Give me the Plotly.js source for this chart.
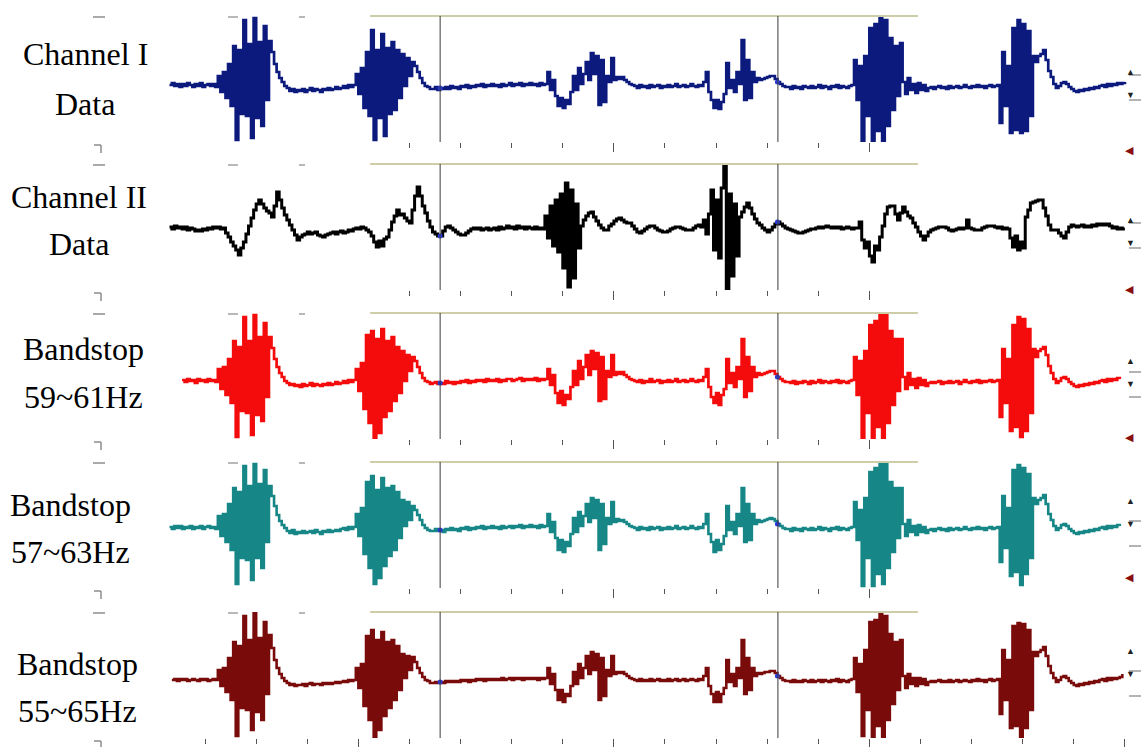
<!DOCTYPE html>
<html>
<head>
<meta charset="utf-8">
<script src="https://cdn.plot.ly/plotly-3.0.1.min.js"></script>
<style>
  html, body { margin: 0; padding: 0; background: #ffffff; }
  #chart { width: 1141px; height: 747px; }
</style>
</head>
<body>
<div id="chart"></div>
<script>
// Sampling grid (seconds per sample) and start time of each recording
const STEP = 0.05;
const channel1Start = -0.7;
const channel2Start = -0.7;
const bandstop1Start = -0.45;
const bandstop2Start = -0.7;
const bandstop3Start = -0.65;

// Channel I raw data
const channel1 = [
  1,3,0,2,-1,2,0,3,1,-1,2,0,3,-1,1,2,0,2,-1,
  10,-6,14,-12,22,-20,40,-54,36,-28,66,-30,42,-52,68,-32,44,-40,60,-14,45,34,22,14,8,4,0,
  -2,-5,-3,-6,-4,-5,-3,-6,-4,-2,-5,-3,-4,-6,-3,-4,-2,-4,-3,-1,-3,-2,0,-2,1,-1,1,
  12,-8,18,
  -22,34,-30,56,-54,36,-32,52,-50,38,-28,44,-24,36,-12,32,0,28,10,
  24,20,14,8,3,0,-1,-3,
  -3,-1,-4,-2,-3,-1,-3,0,-2,-1,-3,0,-1,1,-2,0,-1,1,0,2,-1,1,0,2,0,1,-1,2,0,1,3,0,2,1,3,0,2,1,3,1,2,0,3,1,2,
  14,-4,6,-10,-20,-12,-22,-14,-18,-6,10,-4,18,2,12,24,6,33,12,30,-19,26,-16,10,4,28,6,9,7,9,6,4,2,1,
  0,-2,1,-1,0,-2,1,-1,0,1,-2,0,-1,1,-1,0,2,-1,0,1,-1,0,2,0,-1,1,0,
  4,14,-6,-14,-22,-14,-23,-16,-8,23,-2,6,-6,14,2,46,-14,26,-12,14,4,8,6,7,8,9,10,10,7,4,2,0,-1,
  -1,-3,0,-2,-1,-3,0,-1,-2,0,-2,-1,1,-2,0,-1,-3,0,-1,1,-2,0,-1,-2,0,1,
  26,-14,20,-56,30,-30,58,-56,62,-45,69,-56,66,-40,48,-24,40,-10,43,4,-8,8,-4,2,-7,3,-4,1,-5,-2,
  -1,-3,-1,0,-2,-1,-3,0,-2,-1,0,-2,-1,1,-1,-2,0,-1,1,-1,0,-2,0,1,-1,0,1,
  -37,34,-20,20,-47,58,-44,66,-47,62,-45,55,-30,30,24,30,32,36,26,15,9,2,-2,0,3,
  4,2,-1,-3,-5,-6,-4,-5,-3,-4,-2,-3,-1,-2,0,1,-1,2,0,2,1,3,2,3,4
];

// Channel II raw data
const channel2 = [
  1,-1,2,0,1,-1,1,-2,0,-1,-3,-2,-3,-1,-2,0,-1,1,0,1,-1,
  0,-5,-9,-14,-18,-22,-27,-20,
  -14,-6,2,10,18,24,28,
  24,20,17,15,11,22,36,28,20,13,8,3,-2,-7,-12,
  -9,-7,-6,-4,-6,-5,-4,-7,-8,-9,-7,-6,-5,-4,-6,-4,-3,-5,-4,-2,-3,-1,0,-1,1,0,
  -2,-4,-8,-14,-19,-13,-18,-11,-9,-2,6,12,18,13,14,10,7,5,18,32,41,32,22,15,
  7,1,-4,-6,-8,-8,-3,1,2,0,-2,-4,-6,-7,-7,-5,-3,-1,0,-1,0,-2,-1,0,-2,-1,0,-2,1,-1,0,2,0,1,-1,2,0,1,-1,1,0,-1,1,-1,0,-1,
  12,-10,22,-18,28,-24,34,-40,45,-59,38,-50,24,-20,
  2,8,12,15,16,11,7,3,0,-2,-2,2,4,7,9,10,8,6,5,5,2,-1,-4,-5,-3,-1,1,2,2,0,-2,-3,-4,-4,-3,-1,0,1,1,0,-1,-2,-2,-2,0,2,3,1,
  8,-6,14,38,-22,28,-30,40,63,-62,34,-48,24,-28,
  11,16,21,25,20,14,9,5,3,0,-2,-4,-2,1,4,6,4,2,0,-1,-2,-3,-4,-5,-5,-4,-3,-2,-1,-1,0,1,0,1,2,1,0,1,0,1,-1,0,1,0,-1,0,0,
  6,-12,-20,-14,-28,-34,-18,-22,-9,2,14,21,22,22,14,8,15,21,16,12,10,5,1,-4,-8,-12,-8,-4,-2,-1,0,1,1,1,0,-2,-3,-2,-1,0,-1,0,8,0,-1,-2,-2,-2,0,1,2,2,2,1,0,1,-1,0,-1,
  -10,-19,-8,-22,-14,-20,
  11,18,25,26,27,28,28,20,12,3,-2,-2,-2,-5,-8,-10,-4,1,3,2,1,2,3,1,2,1,3,2,4,3,4,3,4,2,0,1,-1,0,-1,-1
];

// Bandstop 59~61Hz output
const bandstop1 = [
  1,-1,2,0,1,-2,2,0,1,-1,2,0,1,-1,
  12,-8,14,-14,22,-22,40,-56,34,-30,64,-32,40,-54,66,-34,44,-40,58,-16,44,33,22,14,8,4,0,
  -2,-4,-3,-5,-4,-6,-3,-5,-4,-2,-5,-3,-4,-5,-3,-4,-2,-4,-3,-1,-3,-2,0,-2,1,-1,1,
  12,-10,18,
  -28,46,-42,50,-58,42,-52,52,-36,40,-30,44,-20,34,-12,30,0,26,10,
  24,20,14,8,3,0,-1,-3,
  -2,-1,-3,-2,-3,0,-2,-1,-3,-1,-2,0,-1,1,-2,0,-1,1,0,1,-1,2,0,1,0,2,-1,1,0,2,2,0,1,2,3,0,2,1,2,1,3,0,2,1,2,
  12,-4,6,-12,-22,-10,-24,-14,-18,-6,10,-4,20,2,14,26,6,30,12,28,-20,24,-18,10,4,26,6,9,7,9,6,4,2,1,
  0,-1,1,-2,0,-1,2,-1,0,1,-2,0,-1,1,-1,0,2,-1,0,1,-1,0,2,0,-1,1,0,
  4,12,-6,-16,-22,-12,-24,-14,-8,22,-2,8,-6,14,2,42,-16,24,-10,14,4,8,6,7,8,9,10,10,7,4,2,0,-1,
  -1,-2,0,-3,-1,-2,0,-1,-3,0,-2,-1,1,-2,0,-1,-2,0,-1,1,-2,0,-1,-2,0,1,
  24,-14,20,-58,30,-32,56,-58,60,-46,68,-58,66,-42,50,-24,42,-10,42,4,-8,8,-4,2,-7,3,-4,1,-5,-2,
  -1,-2,-1,0,-3,-1,-2,0,-2,-1,0,-3,-1,1,-1,-2,0,-1,1,-2,0,-1,0,1,-1,0,1,
  -36,32,-22,22,-50,56,-46,64,-56,62,-50,52,-32,32,24,30,32,34,26,15,8,2,-2,0,3,
  4,2,-1,-3,-5,-6,-4,-5,-3,-4,-2,-3,-1,-2,0,1,-1,2,0,2,1,3,2
];

// Bandstop 57~63Hz output
const bandstop2 = [
  1,-1,2,0,2,-1,1,0,2,-1,1,0,2,-1,1,2,0,1,-1,
  12,-8,14,-14,24,-22,40,-56,36,-30,62,-32,42,-52,64,-30,44,-40,58,-14,42,32,22,13,7,3,0,
  -3,-5,-2,-6,-4,-5,-3,-5,-4,-3,-5,-2,-4,-6,-3,-4,-2,-4,-3,-2,-3,-1,0,-2,1,-1,1,
  14,-8,20,
  -26,46,-40,52,-56,38,-50,50,-38,40,-28,42,-22,36,-10,28,2,26,8,
  22,18,13,8,3,0,-2,-3,
  -3,-1,-3,-2,-4,-1,-2,0,-2,-1,-3,0,-1,1,-2,0,-1,1,0,2,-1,1,0,2,0,1,-1,2,0,1,2,0,2,1,3,0,2,1,3,1,2,0,3,1,2,
  14,-4,6,-10,-22,-12,-24,-14,-18,-6,10,-4,16,2,12,24,6,30,10,28,-22,24,-16,10,4,26,6,9,7,8,6,4,2,1,
  0,-2,1,-1,0,-2,1,-1,0,1,-2,0,-1,1,-1,0,2,-1,0,1,-1,0,2,0,-1,1,0,
  4,14,-6,-14,-24,-12,-22,-16,-8,22,-2,6,-6,14,2,40,-14,24,-12,14,4,8,6,7,8,9,10,9,7,4,2,0,-1,
  -1,-3,0,-2,-1,-3,0,-1,-2,0,-2,-1,1,-2,0,-1,-3,0,-1,1,-2,0,-1,-2,0,1,
  26,-12,18,-58,30,-30,56,-58,60,-46,66,-56,64,-40,46,-24,40,-10,40,4,-8,8,-4,2,-7,3,-4,1,-5,-2,
  -1,-3,-1,0,-2,-1,-3,0,-2,-1,0,-2,-1,1,-1,-2,0,-1,1,-1,0,-2,0,1,-1,0,1,
  -34,32,-20,20,-48,58,-44,63,-57,60,-46,54,-30,30,24,28,30,33,24,14,8,2,-2,0,3,
  4,2,-1,-3,-5,-6,-4,-5,-3,-4,-2,-3,-1,-2,0,1,-1,2,0,2,1,3,2
];

// Bandstop 55~65Hz output
const bandstop3 = [
  0,1,-1,1,0,1,-1,0,1,0,-1,1,0,1,-1,0,1,0,
  10,-6,12,-12,22,-20,38,-56,34,-28,64,-30,40,-50,67,-32,42,-40,58,-14,45,32,20,12,6,2,-1,
  -3,-5,-4,-6,-5,-5,-4,-6,-4,-3,-5,-4,-4,-5,-3,-4,-3,-4,-3,-2,-3,-2,-1,-2,0,-1,0,
  12,-8,16,
  -26,44,-40,50,-57,40,-50,48,-36,38,-28,40,-20,34,-10,26,2,24,10,
  23,18,12,7,3,0,-1,-3,
  -3,-2,-3,-2,-3,-1,-2,-1,-2,-1,-2,0,-1,0,-2,0,-1,1,0,1,-1,1,0,1,0,1,0,2,0,1,2,0,2,1,2,0,2,1,2,1,2,0,2,1,2,
  12,-4,6,-10,-20,-10,-22,-14,-16,-6,8,-4,16,2,12,24,6,28,10,26,-20,22,-16,10,4,24,6,8,7,8,6,4,2,1,
  0,-1,1,-1,0,-1,1,-1,0,1,-1,0,-1,1,-1,0,1,-1,0,1,-1,0,1,0,-1,1,0,
  4,12,-6,-14,-22,-12,-22,-14,-8,20,-2,6,-6,12,2,40,-14,22,-10,12,4,7,6,7,8,8,9,9,7,4,2,0,-1,
  -1,-2,0,-2,-1,-2,0,-1,-2,0,-2,-1,0,-2,0,-1,-2,0,-1,1,-2,0,-1,-2,0,1,
  22,-12,16,-56,30,-30,58,-57,60,-46,68,-57,64,-40,46,-24,38,-10,40,4,-8,6,-4,2,-6,2,-4,1,-5,-2,
  -1,-2,-1,0,-2,-1,-2,0,-2,-1,0,-2,-1,0,-1,-2,0,-1,1,-1,0,-2,0,1,-1,0,1,
  -34,30,-20,20,-48,54,-46,57,-57,56,-48,50,-30,28,24,28,30,33,24,14,7,2,-2,0,3,
  4,2,-1,-3,-5,-6,-4,-5,-3,-4,-2,-3,-1,-2,0,1,-1,2,0,2,1,2,3,6
];

const channelNames = [
  ['Channel I', 'Data'],
  ['Channel II', 'Data'],
  ['Bandstop', '59~61Hz'],
  ['Bandstop', '57~63Hz'],
  ['Bandstop', '55~65Hz']
];

// Cursor times and the guide bar shown across the top of each strip
const cursorTimes = [4.6, 11.21];
const guideSpan = [3.23, 13.95];

// Time ticks along the strip bottoms
const majorTicksUpper = [8, 13];
const minorTicksUpper = [4, 5, 6, 7, 9, 10, 11, 12];
const majorTicksLower = [3, 8, 13, 18];
const minorTicksLower = [0, 1, 2, 4, 5, 6, 7, 9, 10, 11, 12, 14, 15, 16, 17];

// Page geometry (pixels)
const W = 1141, H = 747;
const STRIP_H = 126;
const X_DOMAIN_PX = [169.3, 1130];
const X_RANGE = [-0.7, 18.1];

// Sample-and-hold drawing keeps dense oscillations solid at this sample spacing
const strips = [
  { data: channel1,  start: channel1Start,  color: '#0c1a7e', width: 2.7, shape: 'hv', yRange: [-56, 70], top: 16,
    labelX: 85, labelY: [54, 104] },
  { data: channel2,  start: channel2Start,  color: '#000000', width: 3.0, shape: 'hv', yRange: [-62, 64], top: 164,
    labelX: 79, labelY: [197, 244] },
  { data: bandstop1, start: bandstop1Start, color: '#f40c0c', width: 2.7, shape: 'hv', yRange: [-58, 68], top: 313,
    labelX: 83, labelY: [349, 397] },
  { data: bandstop2, start: bandstop2Start, color: '#168686', width: 2.6, shape: 'hv', yRange: [-60, 66], top: 462,
    labelX: 70, labelY: [505, 552] },
  { data: bandstop3, start: bandstop3Start, color: '#7a0b0b', width: 2.6, shape: 'hv', yRange: [-58, 68], top: 612,
    labelX: 77, labelY: [664, 711] }
];

const px = v => v / W;
const py = v => 1 - v / H;

const traces = [];
const shapes = [];
const annotations = [];
const layout = {
  width: W, height: H,
  margin: { l: 0, r: 0, t: 0, b: 0 },
  paper_bgcolor: '#ffffff',
  plot_bgcolor: '#ffffff',
  showlegend: false,
  shapes: shapes,
  annotations: annotations
};

const serif = 'Liberation Serif, Times New Roman, serif';

strips.forEach((s, k) => {
  const n = k + 1;
  const xa = n === 1 ? 'x' : 'x' + n;
  const ya = n === 1 ? 'y' : 'y' + n;
  const times = s.data.map((_, j) => +(s.start + j * STEP).toFixed(3));

  traces.push({
    type: 'scatter', mode: 'lines', x: times, y: s.data,
    xaxis: xa, yaxis: ya,
    line: { color: s.color, width: s.width, shape: s.shape },
    hoverinfo: 'skip'
  });

  // cursor read-out dots on the trace
  const cx = [], cy = [];
  cursorTimes.forEach(c => {
    const j = Math.round((c - s.start) / STEP);
    if (j >= 0 && j < s.data.length) { cx.push(times[j]); cy.push(s.data[j]); }
  });
  traces.push({
    type: 'scatter', mode: 'markers', x: cx, y: cy,
    xaxis: xa, yaxis: ya,
    marker: { color: '#2a3ad6', size: 5 },
    hoverinfo: 'skip'
  });

  const lower = k === strips.length - 1;
  layout['xaxis' + (n === 1 ? '' : n)] = {
    domain: [px(X_DOMAIN_PX[0]), px(X_DOMAIN_PX[1])],
    range: X_RANGE,
    anchor: ya,
    showgrid: false, zeroline: false, showline: false, showticklabels: false,
    ticks: 'outside', tickmode: 'array',
    tickvals: lower ? majorTicksLower : majorTicksUpper,
    ticklen: 9, tickwidth: 1, tickcolor: '#555555',
    minor: {
      tickmode: 'array',
      tickvals: lower ? minorTicksLower : minorTicksUpper,
      ticks: 'outside', ticklen: 5, tickwidth: 1, tickcolor: '#555555', showgrid: false
    },
    fixedrange: true
  };
  layout['yaxis' + (n === 1 ? '' : n)] = {
    domain: [py(s.top + STRIP_H), py(s.top)],
    range: s.yRange,
    anchor: xa,
    showgrid: false, zeroline: false, showline: false, showticklabels: false, ticks: '',
    fixedrange: true
  };

  // guide bar on top of the strip
  shapes.push({
    type: 'line', xref: xa, yref: ya + ' domain',
    x0: guideSpan[0], x1: guideSpan[1], y0: 1, y1: 1,
    line: { color: '#cdcda8', width: 2 }
  });
  // cursors
  cursorTimes.forEach(c => shapes.push({
    type: 'line', xref: xa, yref: ya + ' domain',
    x0: c, x1: c, y0: 0, y1: 1,
    line: { color: '#3a3a3a', width: 1 }
  }));

  // small panel furniture on the left
  const greyLine = (x0, y0, x1, y1, col) => shapes.push({
    type: 'line', xref: 'paper', yref: 'paper',
    x0: px(x0), x1: px(x1), y0: py(y0), y1: py(y1),
    line: { color: col || '#8c8c8c', width: 1.5 }
  });
  greyLine(93, s.top + 1, 105, s.top + 1);
  greyLine(228, s.top + 1, 238, s.top + 1, '#a0a0a0');
  greyLine(299, s.top + 1, 305, s.top + 1, '#a0a0a0');
  greyLine(94, s.top + STRIP_H + 3, 101, s.top + STRIP_H + 3);
  greyLine(101, s.top + STRIP_H + 3, 101, s.top + STRIP_H + 11);

  // scroll controls on the right edge
  greyLine(1129, s.top + 59, 1141, s.top + 59, '#9a9a9a');
  greyLine(1129, s.top + 84, 1141, s.top + 84, '#9a9a9a');
  annotations.push({
    xref: 'paper', yref: 'paper', x: px(1137), y: py(s.top + 47),
    text: '▲', showarrow: false, font: { size: 9, color: '#222' }
  });
  annotations.push({
    xref: 'paper', yref: 'paper', x: px(1137), y: py(s.top + 70),
    text: '▼', showarrow: false, font: { size: 9, color: '#222' }
  });
  if (k < strips.length - 1) {
    annotations.push({
      xref: 'paper', yref: 'paper', x: px(1136), y: py(s.top + 124),
      text: '◀', showarrow: false, font: { size: 11, color: '#8a1010' }
    });
  }

  // strip labels
  channelNames[k].forEach((txt, j) => annotations.push({
    xref: 'paper', yref: 'paper', x: px(s.labelX), y: py(s.labelY[j]),
    xanchor: 'center', yanchor: 'middle',
    text: txt, showarrow: false,
    font: { family: serif, size: 32, color: '#000000' }
  }));
});

Plotly.newPlot('chart', traces, layout, { staticPlot: true, displayModeBar: false });
</script>
</body>
</html>
